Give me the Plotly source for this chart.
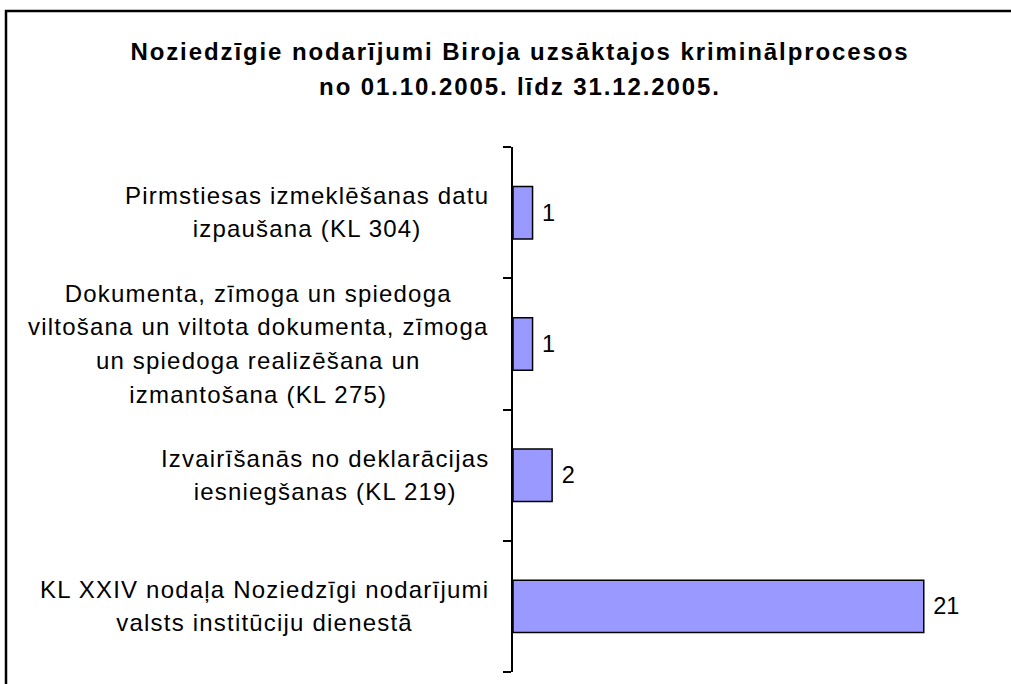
import plotly.graph_objects as go

# ---- data ----
categories = [
    "Pirmstiesas izmeklēšanas datu<br>izpaušana (KL 304)",
    "Dokumenta, zīmoga un spiedoga<br>viltošana un viltota dokumenta, zīmoga<br>un spiedoga realizēšana un<br>izmantošana (KL 275)",
    "Izvairīšanās no deklarācijas<br>iesniegšanas (KL 219)",
    "KL XXIV nodaļa Noziedzīgi nodarījumi<br>valsts institūciju dienestā",
]
values = [1, 1, 2, 21]
title_lines = [
    "Noziedzīgie nodarījumi Biroja uzsāktajos kriminālprocesos",
    "no 01.10.2005. līdz 31.12.2005.",
]

W, H = 1011, 684
ML, MT, MB, MR = 513, 147, 12, 9
PW, PH = W - ML - MR, H - MT - MB
FONT = "Liberation Sans, Arial, sans-serif"
TXT = 23.5
LBL = 24
LABEL_LINE = 33.5 / 1.3  # base font giving line spacing


def spaced(text, size, ls):
    return "<br>".join(
        f"<span style='font-size:{size}px;letter-spacing:{ls}px'>{ln}</span>"
        for ln in text.split("<br>")
    )


fig = go.Figure()
fig.add_trace(
    go.Bar(
        y=list(range(len(categories))),
        x=values,
        orientation="h",
        marker=dict(color="#9999FF", line=dict(color="black", width=1.5)),
        width=0.4,
        texttemplate=" %{x}",
        textposition="outside",
        textfont=dict(family=FONT, size=TXT, color="black"),
        cliponaxis=False,
        hoverinfo="skip",
    )
)

annotations = []
for i, cat in enumerate(categories):
    annotations.append(
        dict(
            xref="paper", yref="y", x=0, y=i,
            xanchor="right", yanchor="middle", xshift=-22,
            text=spaced(cat, LBL, 1.2), align="center", showarrow=False,
            font=dict(family=FONT, size=LABEL_LINE, color="black"),
        )
    )

fig.update_layout(
    width=W, height=H,
    margin=dict(l=ML, r=MR, t=MT, b=MB, autoexpand=False),
    paper_bgcolor="white", plot_bgcolor="white",
    showlegend=False,
    title=dict(
        text=spaced("<br>".join(f"<b>{t}</b>" for t in title_lines), 24, 1.9),
        x=520 / W, xanchor="center", xref="container",
        y=1 - 60 / H, yanchor="middle", yref="container",
        font=dict(family=FONT, size=34.5 / 1.3, color="black"),
    ),
    xaxis=dict(range=[0, 25], visible=False, fixedrange=True),
    yaxis=dict(
        range=[3.5, -0.5], tickmode="array", tickvals=[-0.5, 0.5, 1.5, 2.5, 3.5],
        showticklabels=False, ticks="outside", ticklen=8, tickwidth=1.5,
        tickcolor="black", showline=True, linecolor="black", linewidth=1.5,
        showgrid=False, zeroline=False, fixedrange=True,
    ),
    annotations=annotations,
    shapes=[
        dict(
            type="rect", xref="paper", yref="paper",
            x0=(6 - ML) / PW, x1=(W + 20 - ML) / PW,
            y0=-(H + 20 - (H - MB)) / PH, y1=((H - MB) - 11) / PH,
            line=dict(color="black", width=2.5), fillcolor="rgba(0,0,0,0)",
            layer="below",
        )
    ],
)

fig.write_html(
    "out.html",
    config={"displayModeBar": False},
    post_script="document.body.style.margin='0';document.body.style.overflow='hidden';",
)
